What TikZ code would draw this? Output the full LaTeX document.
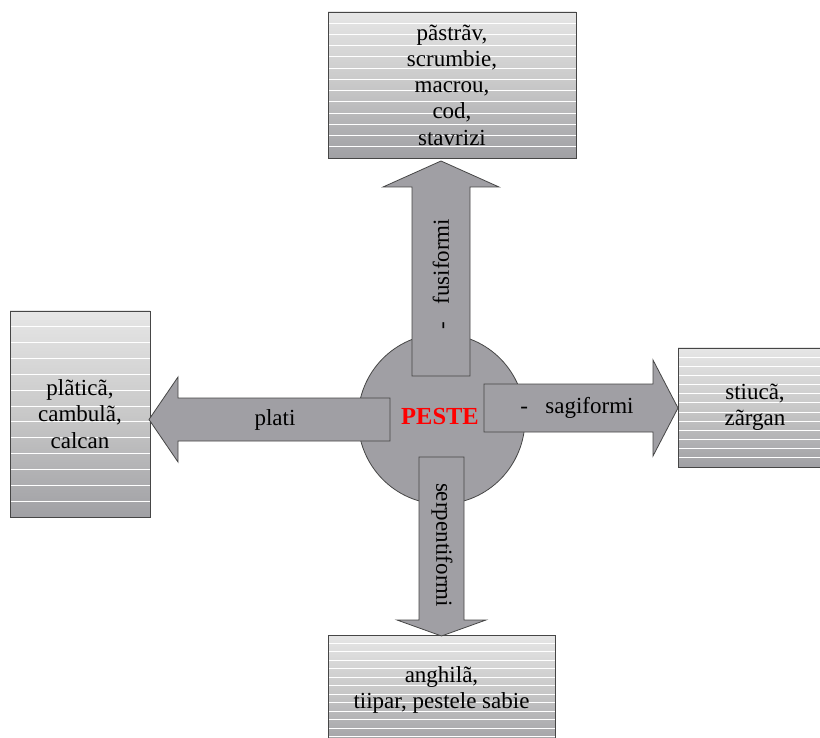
\documentclass[tikz,border=0pt]{standalone}
\usepackage{fontspec}
\setmainfont{Liberation Serif}
\usetikzlibrary{calc}
\definecolor{boxtop}{RGB}{230,230,230}
\definecolor{boxmid}{RGB}{200,200,200}
\definecolor{boxbot}{RGB}{160,160,164}
\definecolor{arrfill}{RGB}{160,159,164}
\definecolor{edgegray}{RGB}{70,70,70}
\tikzset{
  fishbox/.style={draw=edgegray, line width=0.8pt, rectangle, inner sep=0pt,
    top color=boxtop, bottom color=boxbot, middle color=boxmid, align=center,
    font=\fontsize{23}{26.3}\selectfont,
    path picture={
      \foreach \i in {1,...,12}{
        \draw[white, line width=1pt]
          ($(path picture bounding box.north west)!\i/13!(path picture bounding box.south west)$) --
          ($(path picture bounding box.north east)!\i/13!(path picture bounding box.south east)$);
      }
    }},
  blockarrow/.style={draw=edgegray, line width=0.8pt, fill=arrfill},
  arrlabel/.style={font=\fontsize{23}{26.3}\selectfont, inner sep=0pt}
}
\begin{document}
\begin{tikzpicture}[x=1pt,y=-1pt]
\useasboundingbox (0,0) rectangle (820,738);
\clip (0,0) rectangle (820,738);

% boxes
\node[fishbox, minimum width=248pt, minimum height=146pt] (top) at (452,85)
  {pãstrãv,\\scrumbie,\\macrou,\\cod,\\stavrizi};
\node[fishbox, minimum width=140pt, minimum height=206pt] (left) at (80,414)
  {plãticã,\\cambulã,\\calcan};
\node[fishbox, minimum width=154pt, minimum height=119pt] (right) at (755,407.5)
  {stiucã,\\zãrgan};
\node[fishbox, minimum width=227pt, minimum height=110pt] (bottom) at (441.5,690)
  {anghilã,\\tiipar, pestele sabie};

% centre ellipse
\draw[blockarrow] (441.5,419) ellipse [x radius=83.5, y radius=85];
\coordinate (c) at (441.5,419);

% up arrow
\draw[blockarrow] (412,376) -- (412,187) -- (383,187) -- (441,161) -- (499,187)
  -- (470,187) -- (470,376) -- cycle;
% right arrow
\draw[blockarrow] (484,384) -- (653,384) -- (653,360) -- (678,408) -- (653,456)
  -- (653,432) -- (484,432) -- cycle;
% left arrow
\draw[blockarrow] (390,398) -- (178,398) -- (178,377) -- (149,419.5) -- (178,462)
  -- (178,441) -- (390,441) -- cycle;
% down arrow
\draw[blockarrow] (419,457) -- (419,620) -- (397,620) -- (441.5,636) -- (486,620)
  -- (464,620) -- (464,457) -- cycle;

% labels
\node[arrlabel, rotate=90] (lup) at (441,274) {-\ \ \ fusiformi};
\node[arrlabel] (lright) at (577,408) {-\ \ \ sagiformi};
\node[arrlabel] (lleft) at (275,420) {plati};
\node[arrlabel, rotate=-90] (ldown) at (442,545) {serpentiformi};
\node[font=\fontsize{24.5}{28}\selectfont\bfseries, text=red, inner sep=0pt] (peste) at (440,417) {PESTE};
\end{tikzpicture}
\end{document}
